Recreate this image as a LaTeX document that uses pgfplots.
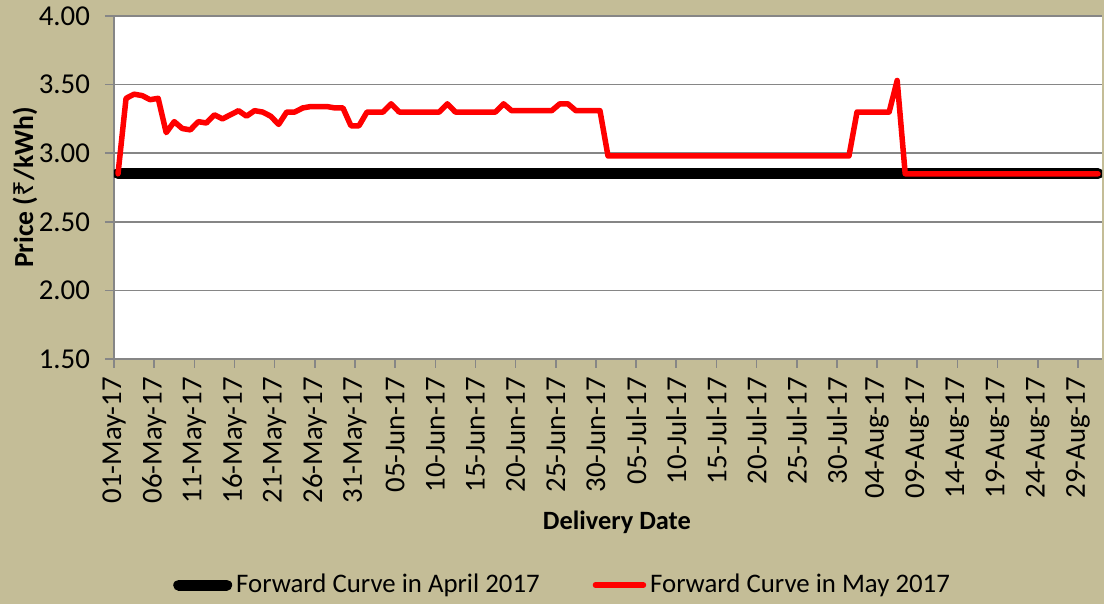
\documentclass[border=0pt]{standalone}
\usepackage{pgfplots}
\pgfplotsset{compat=1.18}
\usepackage{fontspec}
\setmainfont{Carlito}
\newfontfamily\rupeefont{Noto Sans}
\definecolor{bgtan}{HTML}{C4BD97}
\definecolor{gridgray}{HTML}{868686}

\begin{document}
\begin{tikzpicture}
% tan chart area behind everything, also fixes the page size
\fill[bgtan] (-57pt,-122.5pt) rectangle (495pt,179.5pt);
\path[use as bounding box] (-57pt,-122.5pt) rectangle (495pt,179.5pt);
\begin{axis}[
    at={(0,0)}, anchor=south west,
    scale only axis,
    width=494pt, height=171.5pt,
    axis background/.style={fill=white},
    tick label style={font=\fontsize{14.4}{16}\selectfont},
    /pgf/number format/assume math mode=true,
    % days counted from 01-May-17; ticks sit on day boundaries,
    % points in the middle of their day
    xmin=0, xmax=123,
    ymin=1.5, ymax=4,
    ytick={1.5,2,2.5,3,3.5,4},
    yticklabel style={xshift=-4pt, /pgf/number format/.cd, fixed, fixed zerofill, precision=2},
    xtick={0,5,...,120},
    xticklabels={01-May-17,06-May-17,11-May-17,16-May-17,21-May-17,26-May-17,
        31-May-17,05-Jun-17,10-Jun-17,15-Jun-17,20-Jun-17,25-Jun-17,30-Jun-17,
        05-Jul-17,10-Jul-17,15-Jul-17,20-Jul-17,25-Jul-17,30-Jul-17,04-Aug-17,
        09-Aug-17,14-Aug-17,19-Aug-17,24-Aug-17,29-Aug-17},
    xticklabel style={rotate=90, anchor=east, xshift=-1pt},
    axis lines*=left,
    axis line style={gridgray, line width=0.8pt},
    tick align=outside,
    major tick length=4.5pt,
    tick style={gridgray, line width=0.8pt},
    ymajorgrids,
    major grid style={gridgray, line width=0.8pt},
    xlabel={\bfseries Delivery Date},
    xlabel style={at={(axis description cs:0.509,-0.475)}, anchor=center,
        font=\fontsize{13.2}{15}\selectfont},
    ylabel={\bfseries Price ({\rupeefont\bfseries ₹}/kWh)},
    ylabel style={at={(axis description cs:-0.09,0.5)}, anchor=center,
        font=\fontsize{13.8}{15}\selectfont},
    legend columns=2,
    legend style={draw=none, fill=none, at={(axis description cs:0.455,-0.659)},
        anchor=center, font=\fontsize{13.4}{15}\selectfont,
        /tikz/every even column/.append style={column sep=24.5pt}},
    legend cell align=left,
    legend image code/.code={\draw[#1] (0pt,0pt) -- (24pt,0pt);},
    x filter/.expression={x+0.5},
]
\addplot[black, line width=5.5pt, line cap=round] coordinates {(0,2.85) (122,2.85)};
\addlegendentry{Forward Curve in April 2017}
\addplot[red, line width=2.75pt, line join=round, line cap=round] coordinates {
(0,2.85) (1,3.40) (2,3.43) (3,3.42) (4,3.39) (5,3.40) (6,3.15) (7,3.23) (8,3.18)
(9,3.17) (10,3.23) (11,3.22) (12,3.28) (13,3.25) (14,3.28) (15,3.31) (16,3.27)
(17,3.31) (18,3.30) (19,3.27) (20,3.21) (21,3.30) (22,3.30) (23,3.33) (24,3.34)
(25,3.34) (26,3.34) (27,3.33) (28,3.33) (29,3.20) (30,3.20) (31,3.30) (32,3.30)
(33,3.30) (34,3.36) (35,3.30) (36,3.30) (37,3.30) (38,3.30) (39,3.30) (40,3.30)
(41,3.36) (42,3.30) (43,3.30) (44,3.30) (45,3.30) (46,3.30) (47,3.30) (48,3.36)
(49,3.31) (50,3.31) (51,3.31) (52,3.31) (53,3.31) (54,3.31) (55,3.36) (56,3.36)
(57,3.31) (58,3.31) (59,3.31) (60,3.31) (61,2.98) (62,2.98) (63,2.98) (64,2.98)
(65,2.98) (66,2.98) (67,2.98) (68,2.98) (69,2.98) (70,2.98) (71,2.98) (72,2.98)
(73,2.98) (74,2.98) (75,2.98) (76,2.98) (77,2.98) (78,2.98) (79,2.98) (80,2.98)
(81,2.98) (82,2.98) (83,2.98) (84,2.98) (85,2.98) (86,2.98) (87,2.98) (88,2.98)
(89,2.98) (90,2.98) (91,2.98) (92,3.30) (93,3.30) (94,3.30) (95,3.30) (96,3.30)
(97,3.53) (98,2.85) (99,2.85) (100,2.85) (101,2.85) (102,2.85) (103,2.85)
(104,2.85) (105,2.85) (106,2.85) (107,2.85) (108,2.85) (109,2.85) (110,2.85)
(111,2.85) (112,2.85) (113,2.85) (114,2.85) (115,2.85) (116,2.85) (117,2.85)
(118,2.85) (119,2.85) (120,2.85) (121,2.85) (122,2.85)
};
\addlegendentry{Forward Curve in May 2017}
\end{axis}
\end{tikzpicture}
\end{document}
